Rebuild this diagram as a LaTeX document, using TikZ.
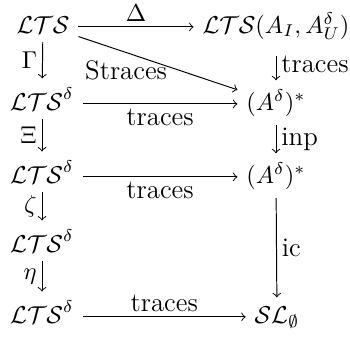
\documentclass[tikz,border=0pt]{standalone}
\usepackage{amsmath,amssymb}
\begin{document}
\begin{tikzpicture}[x=0.41pt,y=-0.41pt,
  obj/.style={anchor=base, inner sep=3.5pt},
  arr/.style={-to, line width=0.4pt},
  lbl/.style={inner sep=2pt},
  txt/.style={inner sep=2pt, font=\fontsize{11}{13}\selectfont}]
\useasboundingbox (0,0) rectangle (350,337);
% left column
\node[obj] (L1) at (43,33) {$\mathcal{LTS}$};
\node[obj] (L2) at (42,110) {$\mathcal{LTS}^{\delta}$};
\node[obj] (L3) at (42,183) {$\mathcal{LTS}^{\delta}$};
\node[obj] (L4) at (42,252) {$\mathcal{LTS}^{\delta}$};
\node[obj] (L5) at (42,323) {$\mathcal{LTS}^{\delta}$};
% right column
\node[obj] (R1) at (276,33) {$\mathcal{LTS}(A_I,A_U^{\delta})$};
\node[obj] (R2) at (276,110) {$(A^{\delta})^{*}$};
\node[obj] (R3) at (276,183) {$(A^{\delta})^{*}$};
\node[obj] (R5) at (277,323) {$\mathcal{SL}_{\emptyset}$};
% horizontal arrows
\draw[arr] ([yshift=2.5pt]L1.base east) -- node[above,lbl]{$\Delta$} ([yshift=2.5pt]R1.base west);
\draw[arr] ([yshift=2.5pt]L2.base east) -- node[below,txt]{traces} ([yshift=2.5pt]R2.base west);
\draw[arr] ([yshift=2.5pt]L3.base east) -- node[below,txt]{traces} ([yshift=2.5pt]R3.base west);
\draw[arr] ([yshift=2.5pt]L5.base east) -- node[above,txt]{traces} ([yshift=2.5pt]R5.base west);
% diagonal
\draw[arr] (L1) -- node[pos=0.3,below,txt,yshift=-1pt]{Straces} (R2);
% left verticals
\draw[arr] (L1) -- node[left,lbl]{$\Gamma$} (L2);
\draw[arr] (L2) -- node[left,lbl]{$\Xi$} (L3);
\draw[arr] (L3) -- node[left,lbl]{$\zeta$} (L4);
\draw[arr] (L4) -- node[left,lbl]{$\eta$} (L5);
% right verticals
\draw[arr, shorten <=3pt] (R1) -- node[right,txt]{traces} (R2);
\draw[arr] (R2) -- node[right,txt]{inp} (R3);
\draw[arr] (R3) -- node[right,txt]{ic} (R5);
\end{tikzpicture}
\end{document}
